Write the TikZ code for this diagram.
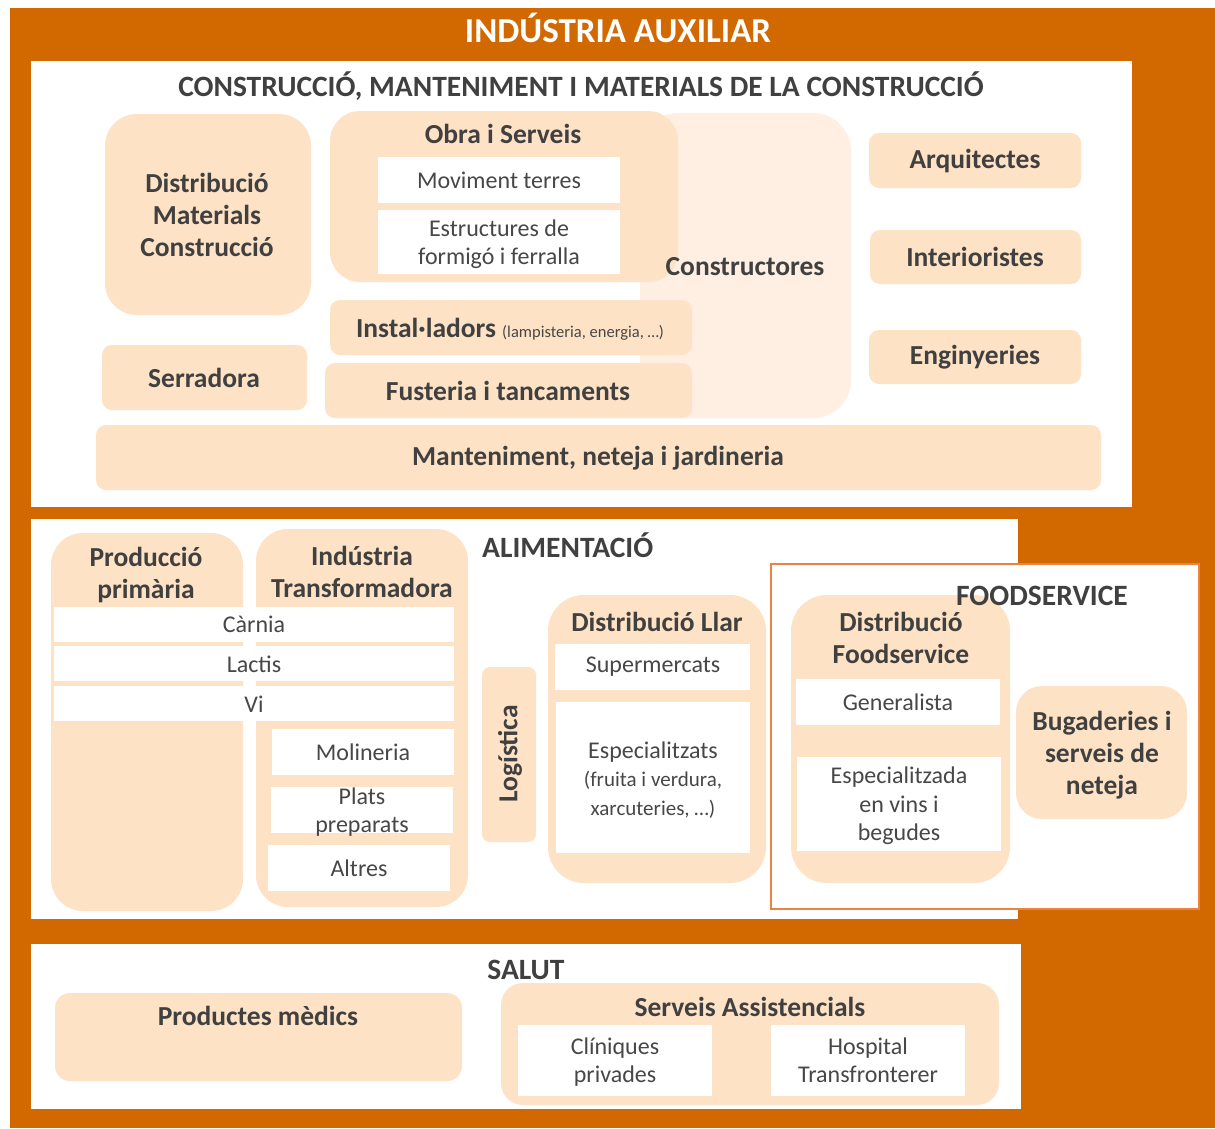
\documentclass[tikz,border=0pt]{standalone}
\usepackage{fontspec}
\setmainfont{Carlito}
\definecolor{orangebg}{HTML}{D26900}
\definecolor{peach}{HTML}{FDE2C5}
\definecolor{paleorange}{HTML}{FEEFE2}
\definecolor{frameline}{HTML}{E8843F}
\definecolor{ink}{HTML}{404040}
\definecolor{softink}{HTML}{474747}
\tikzset{
  flat/.style={draw=none, inner sep=0pt, outer sep=0pt},
  pbox/.style={flat, fill=peach},
  wbox/.style={flat, fill=white},
  head/.style={font=\bfseries\fontsize{29.5}{34}\selectfont, text=ink, inner sep=0pt},
  btxt/.style={font=\bfseries\fontsize{27.5}{32}\selectfont, text=ink, align=center, inner sep=0pt},
  rtxt/.style={font=\fontsize{24}{28.5}\selectfont, text=softink, align=center, inner sep=0pt},
}
% box by its corners: style, name, x1, y1, x2, y2
\newcommand\cornerbox[6]{%
  \node[#1, minimum width={(#5-#3)*1pt}, minimum height={(#6-#4)*1pt}]
    (#2) at ({(#3+#5)/2},{(#4+#6)/2}) {};}
\newcommand\smalltxt{\mdseries\fontsize{21}{26}\selectfont}
\begin{document}
\begin{tikzpicture}[x=1pt, y=-1pt]
\useasboundingbox (0,0) rectangle (1215,1128);
% frame
\cornerbox{flat, fill=orangebg}{frame}{10}{8}{1215}{1128}
\node[font=\bfseries\fontsize{35}{40}\selectfont, text=white] (main) at (618,28) {INDÚSTRIA AUXILIAR};

% ---------------- construction ----------------
\cornerbox{wbox}{constr}{31}{61}{1132}{507}
\node[head] (constrT) at (581,86) {CONSTRUCCIÓ, MANTENIMENT I MATERIALS DE LA CONSTRUCCIÓ};
\cornerbox{flat, fill=paleorange, rounded corners=38pt}{constructors}{640}{113}{851}{418}
\cornerbox{pbox, rounded corners=32pt}{distmat}{105}{114}{311}{315}
\node[btxt] at (207,215) {Distribució\\Materials\\Construcció};
\cornerbox{pbox, rounded corners=30pt}{obra}{330}{111}{678}{282}
\node[btxt] at (503,134) {Obra i Serveis};
\cornerbox{wbox}{moviment}{378}{157}{620}{203}
\node[rtxt] at (499,180) {Moviment terres};
\cornerbox{wbox}{estructures}{378}{210}{620}{274}
\node[rtxt] at (499,244) {Estructures de\\formigó i ferralla};
\node[btxt] at (745,267) {Constructores};
\cornerbox{pbox, rounded corners=10pt}{instal}{330}{300}{692}{355}
\node[btxt] at (510,329) {Instal·ladors {\mdseries\fontsize{16.5}{18}\selectfont\color{softink}(lampisteria, energia, \dots)}};
\cornerbox{pbox, rounded corners=10pt}{serradora}{102}{345}{307}{410}
\node[btxt] at (204,378) {Serradora};
\cornerbox{pbox, rounded corners=10pt}{fusteria}{325}{363}{692}{418}
\node[btxt] at (508,391) {Fusteria i tancaments};
\cornerbox{pbox, rounded corners=10pt}{mant}{96}{425}{1101}{490}
\node[btxt] at (598,458) {Manteniment, neteja i jardineria};
\cornerbox{pbox, rounded corners=10pt}{arq}{869}{133}{1081}{188}
\node[btxt] at (975,161) {Arquitectes};
\cornerbox{pbox, rounded corners=10pt}{inter}{870}{230}{1081}{284}
\node[btxt] at (975,257) {Interioristes};
\cornerbox{pbox, rounded corners=10pt}{engin}{869}{330}{1081}{384}
\node[btxt] at (975,357) {Enginyeries};

% ---------------- food ----------------
\cornerbox{wbox}{alim}{31}{519}{1018}{919}
\node[head, anchor=west] (alimT) at (482,545) {ALIMENTACIÓ};
\cornerbox{flat, fill=white, draw=frameline, line width=2pt}{foodsrv}{771}{564}{1199}{909}

\cornerbox{pbox, rounded corners=32pt}{prod}{51}{533}{243}{911}
\node[btxt] at (146,575) {Producció\\primària};
\cornerbox{pbox, rounded corners=32pt}{indus}{256}{529}{468}{907}
\node[btxt] at (362,572) {Indústria\\Transformadora};
\cornerbox{wbox}{carnia}{54}{607}{454}{642}
\node[rtxt] at (254,624) {Càrnia};
\cornerbox{wbox}{lactis}{54}{646}{454}{681}
\node[rtxt] at (254,664) {Lactis};
\cornerbox{wbox}{vi}{54}{686}{454}{721}
\node[rtxt] at (254,704) {Vi};
\cornerbox{wbox}{molin}{272}{729}{454}{775}
\node[rtxt] at (363,752) {Molineria};
\cornerbox{wbox}{plats}{271}{787}{453}{833}
\node[rtxt] at (362,812) {Plats\\preparats};
\cornerbox{wbox}{altres}{268}{845}{450}{891}
\node[rtxt] at (359,868) {Altres};

\cornerbox{pbox, rounded corners=8pt}{logist}{482}{667}{536}{842}
\node[btxt, rotate=90] at (510,754) {Logística};

\cornerbox{pbox, rounded corners=36pt}{llar}{548}{595}{766}{883}
\node[btxt] at (657,622) {Distribució Llar};
\cornerbox{wbox}{super}{555}{644}{750}{690}
\node[rtxt] at (653,667) {Supermercats};
\cornerbox{wbox}{espec}{556}{702}{750}{853}
\node[rtxt] at (653,780) {Especialitzats\\{\smalltxt(fruita i verdura,}\\{\smalltxt xarcuteries, \dots)}};

\cornerbox{pbox, rounded corners=36pt}{distfood}{791}{595}{1010}{883}
\node[btxt] at (901,638) {Distribució\\Foodservice};
\cornerbox{wbox}{general}{796}{679}{1000}{725}
\node[rtxt] at (898,702) {Generalista};
\cornerbox{wbox}{vins}{797}{757}{1001}{851}
\node[rtxt] at (899,806) {Especialitzada\\en vins i\\begudes};
\cornerbox{pbox, rounded corners=26pt}{buga}{1016}{686}{1187}{819}
\node[btxt] at (1102,755) {Bugaderies i\\serveis de\\neteja};
\node[head] (foodT) at (1042,596) {FOODSERVICE};

% ---------------- health ----------------
\cornerbox{wbox}{salut}{31}{944}{1021}{1109}
\node[head] (salutT) at (526,970) {SALUT};
\cornerbox{pbox, rounded corners=15pt}{medics}{55}{993}{462}{1081}
\node[btxt] at (258,1016) {Productes mèdics};
\cornerbox{pbox, rounded corners=22pt}{assist}{501}{983}{999}{1105}
\node[btxt] at (750,1007) {Serveis Assistencials};
\cornerbox{wbox}{clin}{518}{1025}{712}{1096}
\node[rtxt] at (615,1062) {Clíniques\\privades};
\cornerbox{wbox}{hosp}{771}{1025}{965}{1096}
\node[rtxt] at (868,1060) {Hospital\\Transfronterer};
\end{tikzpicture}
\end{document}
